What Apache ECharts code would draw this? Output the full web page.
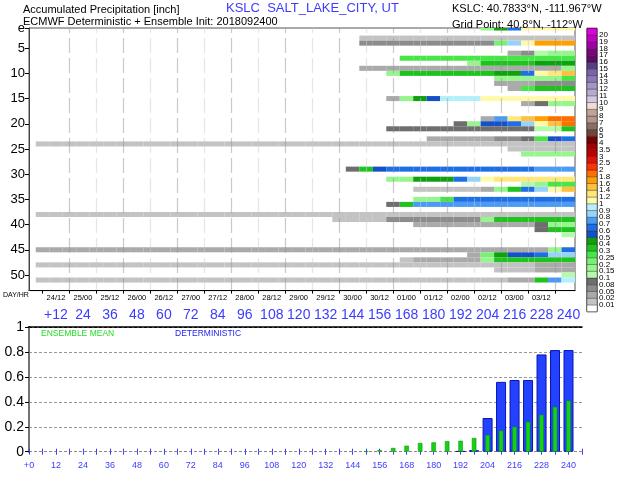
<!DOCTYPE html>
<html>
<head>
<meta charset="utf-8">
<script src="https://cdn.jsdelivr.net/npm/echarts@6/dist/echarts.min.js"></script>
<style>
  html, body { margin: 0; padding: 0; background: #fff; }
  #chart { width: 640px; height: 480px; }
</style>
</head>
<body>
<div id="chart"></div>
<script>
// forecast steps, hours after init (2018092400)
const forecastHours = [6, 12, 18, 24, 30, 36, 42, 48, 54, 60, 66, 72, 78, 84, 90, 96, 102, 108, 114, 120,
  126, 132, 138, 144, 150, 156, 162, 168, 174, 180, 186, 192, 198, 204, 210, 216, 222, 228, 234, 240];

// accumulated precip bins, one code per 6h step: '.' none, a = 0.01-0.02 ... (see levelLabels)
const levelCodes = '.abcdefghijklmnopqrstuvwxyzABCDEFGHIJKLMNO';

// [member row, first step (1 = +6h), codes]
const memberCells = [
  [1, 34, 'fjlpppp'],
  [3, 25, 'aaaaaaaaaa' + 'aaaaaa'],
  [4, 25, 'cccccccccc' + 'gnpsss'],
  [6, 36, 'bceff'],
  [7, 28, 'hhhhhhhhhh' + 'hhh'],
  [8, 33, 'fiiiijjj'],
  [9, 25, 'bbbbbbbbbb' + 'bbbbbf'],
  [10, 27, 'fiiiiiiijj' + 'lpqr'],
  [11, 35, 'fffffh'],
  [12, 35, 'bbbccc'],
  [13, 36, 'bhiii'],
  [15, 27, 'bfjkoooppp' + 'pppp'],
  [16, 37, 'bdff'],
  [19, 34, 'bmqrstt'],
  [20, 32, 'dfkklnprt'],
  [21, 27, 'dddddddddd' + 'deei'],
  [23, 30, 'bbbbbccdhk' + 'l'],
  [24, 1, 'aaaaaaaaaa' + 'aaaaaaaaaa' + 'aaaaaaaaaa' + 'aaaaaaaaaa'],
  [25, 36, 'aaaaa'],
  [26, 37, 'ffff'],
  [29, 24, 'diklllllll' + 'llllmmm'],
  [31, 27, 'ffjjjlnpqq' + 'qqqq'],
  [32, 37, 'efhh'],
  [33, 29, 'aaaaabfiln' + 'pr'],
  [35, 29, 'ffhlllllll' + 'll'],
  [36, 27, 'dimmmmmmmm' + 'mmmm'],
  [38, 1, 'aaaaaaaaaa' + 'aaaaaaaaaa' + 'aaaaaaaaaa' + 'aaaaaaaaaa'],
  [39, 23, 'aaaacccccc' + 'cfiiiiii'],
  [40, 29, 'bbbbbbbbbd' + 'ff'],
  [41, 38, 'dii'],
  [42, 40, 'e'],
  [45, 1, 'bbbbbbbbbb' + 'bbbbbbbbbb' + 'bbbbbbbbbb' + 'bbbbbbbbfl'],
  [46, 33, 'bgjkklnn'],
  [47, 28, 'abbbbbfiii' + 'iii'],
  [48, 1, 'aaaaaaaaaa' + 'aaaaaaaaaa' + 'aaaaaaaaaa' + 'aaaaaaabbb'],
  [49, 35, 'aaabbb'],
  [50, 40, 'e'],
  [51, 1, 'aaaaaaaaaa' + 'aaaaaaaaaa' + 'aaaaaaaaaa' + 'aaaaabbimo'],
];

// colour bar: 41 boundaries, 42 boxes (bottom to top)
const levelLabels = ['0.01', '0.02', '0.05', '0.08', '0.1', '0.15', '0.2', '0.25', '0.3', '0.4', '0.5',
  '0.6', '0.7', '0.8', '0.9', '1', '1.2', '1.4', '1.6', '1.8', '2', '2.5', '3', '3.5', '4', '5', '6', '7',
  '8', '9', '10', '11', '12', '13', '14', '15', '16', '17', '18', '19', '20'];
const levelColors = ['#ffffff', '#c3c3c3', '#aaaaaa', '#8c8c8c', '#6e6e6e', '#b4faaa', '#96f58c', '#78f073',
  '#46e646', '#1ec31e', '#0fa00f', '#1450c8', '#1e6ee6', '#4b9bf5', '#96d2fa', '#b4f0fa', '#fffaaa',
  '#ffe878', '#ffc03c', '#ffa000', '#ff6e00', '#ff3200', '#e11400', '#c00000', '#a50000', '#780000',
  '#6e463c', '#8c6e64', '#b4968c', '#c8a096', '#f0dcd2', '#d2c8e6', '#b4aad2', '#a096c8', '#8c78b4',
  '#7864aa', '#5a3c82', '#640a64', '#820082', '#a000a0', '#be00be', '#dc00dc'];

// axis labels
const memberTicks = [1, 5, 10, 15, 20, 25, 30, 35, 40, 45, 50];
const dayHrHours = [12, 24, 36, 48, 60, 72, 84, 96, 108, 120, 132, 144, 156, 168, 180, 192, 204, 216, 228];
const dayHrLabels = ['24/12', '25/00', '25/12', '26/00', '26/12', '27/00', '27/12', '28/00', '28/12', '29/00',
  '29/12', '30/00', '30/12', '01/00', '01/12', '02/00', '02/12', '03/00', '03/12'];
const dayHrTicks = [6, 18, 30, 42, 54, 66, 78, 90, 102, 114, 126, 138, 150, 162, 174, 186, 198, 210, 222, 234];
const leadLabelsTop = [12, 24, 36, 48, 60, 72, 84, 96, 108, 120, 132, 144, 156, 168, 180, 192, 204, 216, 228, 240];
const leadLabelsBottom = [0, 12, 24, 36, 48, 60, 72, 84, 96, 108, 120, 132, 144, 156, 168, 180, 192, 204, 216, 228, 240];

// bottom panel, inch
const ensembleMean = [0, 0, 0, 0, 0, 0, 0, 0, 0, 0, 0, 0, 0, 0, 0, 0, 0, 0, 0, 0,
  0, 0, 0, 0, 0.003, 0.013, 0.03, 0.048, 0.07, 0.075, 0.085, 0.088, 0.11, 0.134, 0.17, 0.2, 0.24, 0.297, 0.36, 0.41];
const deterministic = [0, 0, 0, 0, 0, 0, 0, 0, 0, 0, 0, 0, 0, 0, 0, 0, 0, 0, 0, 0,
  0, 0, 0, 0, 0, 0, 0, 0, 0, 0, 0, 0.004, 0.012, 0.27, 0.56, 0.575, 0.575, 0.78, 0.815, 0.815];

const FONT = 'Liberation Sans, Arial, sans-serif';
const BLUE = '#3c3cff';

// 填充格子数据
const cellData = [];
memberCells.forEach(([row, start, codes]) => {
  for (let i = 0; i < codes.length; i++) {
    const level = levelCodes.indexOf(codes[i]);
    if (level > 0) cellData.push([forecastHours[start - 1 + i], row, level]);
  }
});
const barData = levelColors.map((c, i) => [0, i]);

// 零值不画柱子
const toBars = (values) => forecastHours
  .map((h, i) => [h, values[i]])
  .filter((d) => d[1] > 0);

function clipToGrid(params, a, b) {
  const cs = params.coordSys;
  return echarts.graphic.clipRectByRect({
    x: Math.min(a[0], b[0]),
    y: Math.min(a[1], b[1]),
    width: Math.abs(b[0] - a[0]),
    height: Math.abs(b[1] - a[1]),
  }, { x: cs.x, y: cs.y, width: cs.width, height: cs.height });
}

function renderCell(params, api) {
  const h = api.value(0);
  const r = api.value(1);
  const shape = clipToGrid(params, api.coord([h - 3, r - 0.5]), api.coord([h + 3, r + 0.5]));
  return shape && { type: 'rect', shape, style: { fill: levelColors[api.value(2)] } };
}

function renderBox(params, api) {
  const i = api.value(1);
  const shape = clipToGrid(params, api.coord([0, i]), api.coord([1, i + 1]));
  return shape && {
    type: 'rect', shape,
    style: { fill: levelColors[i], stroke: 'rgba(0,0,0,0.55)', lineWidth: 0.5 },
  };
}

const chart = echarts.init(document.getElementById('chart'));

const text = (left, top, str, size, color) => ({
  type: 'text', left, top, z: 10,
  style: { text: str, fontSize: size, fill: color, fontFamily: FONT },
});

chart.setOption({
  animation: false,
  backgroundColor: '#fff',
  graphic: [
    text(23, 4, 'Accumulated Precipitation [inch]', 11, '#000'),
    text(23, 16, 'ECMWF Deterministic + Ensemble Init: 2018092400', 11, '#000'),
    text(226, 2, 'KSLC  SALT_LAKE_CITY, UT', 13, BLUE),
    text(452, 3, 'KSLC: 40.7833°N, -111.967°W', 11, '#000'),
    text(452, 19, 'Grid Point: 40.8°N, -112°W', 11, '#000'),
    text(3, 292, 'DAY/HR', 7, '#000'),
    text(41, 329, 'ENSEMBLE MEAN', 8.5, '#22dd22'),
    text(175, 329, 'DETERMINISTIC', 8.5, '#2222ee'),
  ],
  grid: [
    { left: 29, top: 28, width: 546, height: 262.6, show: true, borderColor: '#555', borderWidth: 1 },
    { left: 29, top: 327, width: 553, height: 124.7 },
    { left: 587, top: 28.3, width: 10, height: 283.4, show: true, borderColor: '#000', borderWidth: 1 },
  ],
  xAxis: [
    {
      gridIndex: 0, type: 'value', min: 0, max: 243, interval: 6, z: 5,
      axisLine: { lineStyle: { color: '#000', width: 1.2 } },
      axisTick: { customValues: dayHrTicks, length: 3, lineStyle: { color: '#000' } },
      axisLabel: {
        customValues: dayHrHours, margin: 3, fontSize: 7.5, color: '#000', fontFamily: FONT,
        formatter: (v) => dayHrLabels[dayHrHours.indexOf(v)],
      },
      splitLine: {
        show: true, showMinLine: false,
        lineStyle: {
          color: ['rgba(150,150,150,0.5)', 'rgba(205,205,205,0.5)'],
          width: 1.2, type: [15, 5], dashOffset: 10,
        },
      },
    },
    {
      // ticks and labels sit a little below the zero line
      gridIndex: 1, type: 'value', min: 0, max: 246, interval: 6, offset: 5,
      axisLine: { show: false },
      axisTick: { length: 3, lineStyle: { color: BLUE } },
      axisLabel: {
        customValues: leadLabelsBottom, margin: 4, fontSize: 9, color: BLUE, fontFamily: FONT,
        formatter: (v) => (v === 0 ? '+0' : String(v)),
      },
      splitLine: { show: false },
    },
    {
      gridIndex: 1, type: 'value', position: 'top', offset: 22, min: 0, max: 246, interval: 6,
      axisLine: { show: false },
      axisTick: { length: 3, lineStyle: { color: BLUE } },
      axisLabel: {
        customValues: leadLabelsTop, inside: true, margin: 3, fontSize: 14, color: BLUE, fontFamily: FONT,
        formatter: (v) => (v === 12 ? '+12' : String(v)),
      },
      splitLine: { show: false },
    },
    { gridIndex: 2, type: 'value', min: 0, max: 1, show: false },
    {
      gridIndex: 1, type: 'value', min: 0, max: 246, z: 3,
      axisLine: { show: true, lineStyle: { color: '#000', width: 1.5 } },
      axisTick: { show: false }, axisLabel: { show: false }, splitLine: { show: false },
    },
  ],
  yAxis: [
    {
      gridIndex: 0, type: 'value', inverse: true, min: 1, max: 53.1, z: 6,
      axisLine: { show: true, lineStyle: { color: '#444' } },
      axisTick: { show: true, customValues: memberTicks, length: 4, lineStyle: { color: '#000' } },
      axisLabel: {
        customValues: memberTicks, margin: 4, fontSize: 13, color: '#000', fontFamily: FONT,
        formatter: (v) => (v === 1 ? 'e' : String(v)),
      },
      splitLine: { show: false },
    },
    {
      gridIndex: 1, type: 'value', min: 0, max: 1, interval: 0.2,
      axisLine: { show: true, lineStyle: { color: '#000', width: 2 } },
      axisTick: { show: true, length: 4, lineStyle: { color: '#000' } },
      axisLabel: { margin: 5, fontSize: 14, color: '#000', fontFamily: FONT },
      splitLine: {
        show: true,
        lineStyle: { color: ['#888', '#999', '#999', '#999', '#999', '#111'], type: [3, 2], width: 1 },
      },
    },
    {
      gridIndex: 1, type: 'value', position: 'right', min: 0, max: 1,
      axisLine: { show: true, lineStyle: { color: '#999', width: 1.5 } },
      axisTick: { show: false }, axisLabel: { show: false }, splitLine: { show: false },
    },
    {
      gridIndex: 2, type: 'value', position: 'right', min: 0, max: 42, interval: 1,
      axisLine: { show: false }, axisTick: { show: false }, splitLine: { show: false },
      axisLabel: {
        margin: 2, fontSize: 8, color: '#000', fontFamily: FONT, lineHeight: 8,
        formatter: (v) => (v >= 1 && v <= 41 ? levelLabels[v - 1] : ''),
      },
    },
  ],
  series: [
    {
      name: 'members', type: 'custom', xAxisIndex: 0, yAxisIndex: 0, z: 2,
      renderItem: renderCell, data: cellData, encode: { x: 0, y: 1 },
    },
    {
      name: 'legend', type: 'custom', xAxisIndex: 3, yAxisIndex: 3,
      renderItem: renderBox, data: barData, encode: { x: 0, y: 1 },
    },
    {
      name: 'DETERMINISTIC', type: 'bar', xAxisIndex: 1, yAxisIndex: 1, barWidth: 10,
      itemStyle: { color: '#2242ff', borderColor: '#0a14b0', borderWidth: 1 },
      data: toBars(deterministic),
    },
    {
      name: 'ENSEMBLE MEAN', type: 'bar', xAxisIndex: 2, yAxisIndex: 1, barWidth: 4.5,
      itemStyle: { color: '#14d214', borderColor: '#0a9a0a', borderWidth: 0.6 },
      data: toBars(ensembleMean),
    },
  ],
});
</script>
</body>
</html>
